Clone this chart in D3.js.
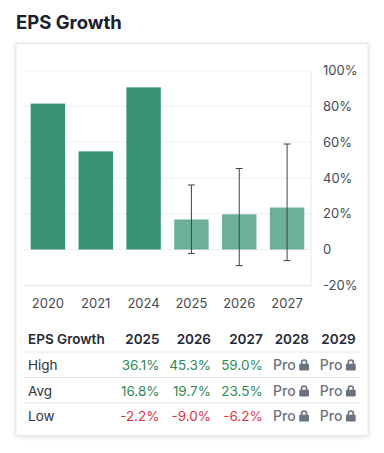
<!DOCTYPE html>
<html>
<head>
<meta charset="utf-8">
<script src="https://cdn.jsdelivr.net/npm/d3@7"></script>
<style>
  html, body { margin: 0; padding: 0; background: #fff; }
  svg { display: block; font-family: Inter, "Noto Sans", sans-serif; }
</style>
</head>
<body>
<svg id="chart" width="384" height="453"></svg>
<script>
// values
const years = ["2020", "2021", "2024", "2025", "2026", "2027"];
const growth = [81.6, 54.9, 90.7, 16.8, 19.7, 23.5];
const forecastYears = ["2025", "2026", "2027"];
const highs = [36.1, 45.3, 59.0];
const lows = [-2.2, -9.0, -6.2];
const yTicks = [-20, 0, 20, 40, 60, 80, 100];

const tableTitle = "EPS Growth";
const tableYears = ["2025", "2026", "2027", "2028", "2029"];
const rowNames = ["High", "Avg", "Low"];
const rowValues = [
  ["36.1%", "45.3%", "59.0%"],
  ["16.8%", "19.7%", "23.5%"],
  ["-2.2%", "-9.0%", "-6.2%"]
];

const svg = d3.select("#chart");

svg.append("text")
  .attr("x", 16).attr("y", 29)
  .attr("font-size", 18.5).attr("font-weight", 700)
  .attr("fill", "#1a202c")
  .text("EPS Growth");

// card
svg.append("rect")
  .attr("x", 16).attr("y", 43.5)
  .attr("width", 352).attr("height", 392)
  .attr("fill", "#fff")
  .attr("stroke", "#e5e7eb")
  .style("filter", "drop-shadow(0 1px 2px rgba(0,0,0,0.12))");

const x = d3.scaleBand().domain(years).range([24, 311]).paddingInner(0.28).paddingOuter(0.14);
const y = d3.scaleLinear().domain([-20, 100]).range([285.3, 70.7]);

// grid lines, drawn first so the bars sit on top
svg.append("g").selectAll("line")
  .data(yTicks)
  .join("line")
  .attr("x1", 24).attr("x2", 311)
  .attr("y1", d => y(d)).attr("y2", d => y(d))
  .attr("stroke", d => d == -20 ? "#dfe1e5" : "#eff0f2");

svg.append("line")
  .attr("x1", 311).attr("x2", 311)
  .attr("y1", y(100)).attr("y2", y(-20))
  .attr("stroke", "#e5e7eb");

// y labels
svg.append("g").selectAll("text")
  .data(yTicks)
  .join("text")
  .attr("x", 323)
  .attr("y", d => y(d))
  .attr("dy", "0.36em")
  .attr("font-size", 13)
  .attr("fill", "#444b55")
  .text(d => d == 0 ? "0" : d + "%");

// x labels
svg.append("g").selectAll("text")
  .data(years)
  .join("text")
  .attr("x", d => x(d) + x.bandwidth() / 2)
  .attr("y", 308)
  .attr("text-anchor", "middle")
  .attr("font-size", 13)
  .attr("fill", "#444b55")
  .text(d => d);

// bars, forecast years are lighter
svg.append("g").selectAll("rect")
  .data(years)
  .join("rect")
  .attr("x", d => x(d))
  .attr("width", x.bandwidth())
  .attr("y", (d, i) => y(growth[i]))
  .attr("height", (d, i) => y(0) - y(growth[i]))
  .attr("fill", d => forecastYears.includes(d) ? "#6cb09a" : "#389276");

// error bars
const errors = svg.append("g").selectAll("g")
  .data(forecastYears)
  .join("g")
  .attr("stroke", "#3f4447")
  .attr("stroke-width", 1);

errors.append("line")
  .attr("x1", d => x(d) + x.bandwidth() / 2)
  .attr("x2", d => x(d) + x.bandwidth() / 2)
  .attr("y1", (d, i) => y(highs[i]))
  .attr("y2", (d, i) => y(lows[i]));

errors.selectAll(".cap")
  .data((d, i) => [highs[i], lows[i]].map(v => ({year: d, v: v})))
  .join("line")
  .attr("class", "cap")
  .attr("x1", d => x(d.year) + x.bandwidth() / 2 - 3.5)
  .attr("x2", d => x(d.year) + x.bandwidth() / 2 + 3.5)
  .attr("y1", d => y(d.v))
  .attr("y2", d => y(d.v));

// table below the chart
const colRight = [159.5, 211, 262.7, 309, 355.7];
const rowY = [365, 391, 416];
const dividers = [352, 377.5, 403];
const table = svg.append("g").attr("font-size", 13.5);

table.append("text")
  .attr("x", 28).attr("y", 339).attr("dy", "0.36em")
  .attr("font-weight", 600).attr("fill", "#1f2937")
  .text(tableTitle);

table.selectAll(".head")
  .data(tableYears)
  .join("text")
  .attr("class", "head")
  .attr("x", (d, i) => colRight[i])
  .attr("y", 339).attr("dy", "0.36em")
  .attr("text-anchor", "end")
  .attr("font-weight", 600).attr("fill", "#1f2937")
  .text(d => d);

table.selectAll(".divider")
  .data(dividers)
  .join("line")
  .attr("class", "divider")
  .attr("x1", 24).attr("x2", 360)
  .attr("y1", d => d).attr("y2", d => d)
  .attr("stroke", "#e2e5ea");

rowNames.forEach((name, r) => {
  table.append("text")
    .attr("x", 28).attr("y", rowY[r]).attr("dy", "0.36em")
    .attr("fill", "#2d3440")
    .text(name);

  rowValues[r].forEach((val, c) => {
    table.append("text")
      .attr("x", colRight[c]).attr("y", rowY[r]).attr("dy", "0.36em")
      .attr("text-anchor", "end")
      .attr("fill", val[0] == "-" ? "#dc3545" : "#2f8a57")
      .text(val);
  });

  // locked columns
  [3, 4].forEach(c => {
    table.append("text")
      .attr("x", colRight[c] - 13.3).attr("y", rowY[r]).attr("dy", "0.36em")
      .attr("text-anchor", "end")
      .attr("font-weight", 500)
      .attr("font-size", 14)
      .attr("fill", "#6b7280")
      .text("Pro");
    const lock = table.append("g")
      .attr("transform", `translate(${colRight[c] - 9.8},${rowY[r] - 5.5})`);
    lock.append("path")
      .attr("d", "M2.4 5V3a2.5 2.5 0 0 1 5 0V5")
      .attr("fill", "none").attr("stroke", "#6b7280").attr("stroke-width", 1.6);
    lock.append("rect")
      .attr("x", 0).attr("y", 4.2)
      .attr("width", 9.8).attr("height", 6.8).attr("rx", 1)
      .attr("fill", "#6b7280");
  });
});
</script>
</body>
</html>
